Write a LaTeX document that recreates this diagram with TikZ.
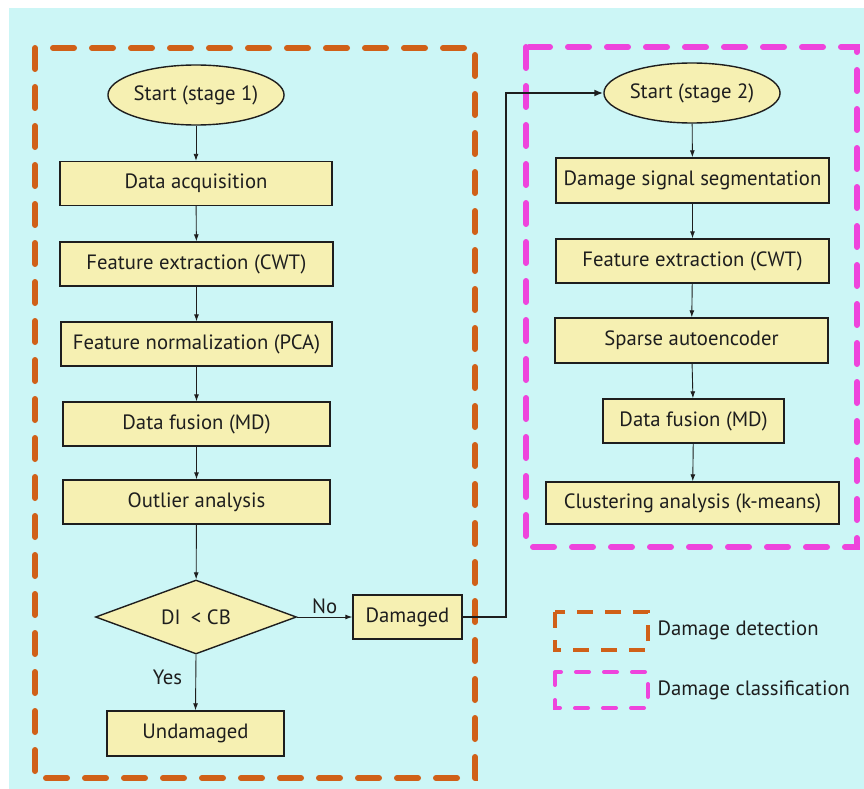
\documentclass[tikz,border=0pt]{standalone}
\usepackage{fontspec}
\setmainfont{PT Sans}
\usepackage{xcolor}
\usetikzlibrary{shapes.geometric,arrows.meta}
\definecolor{bgcyan}{RGB}{204,246,246}
\definecolor{boxyellow}{RGB}{246,240,178}
\definecolor{detorange}{RGB}{208,96,24}
\definecolor{clspink}{RGB}{238,68,220}
\definecolor{inkdark}{RGB}{30,30,30}

\begin{document}
\begin{tikzpicture}[x=1pt, y=-1pt,
    every node/.style={font=\fontsize{20.7}{24}\selectfont, text=inkdark},
    stepbox/.style={draw=inkdark, line width=1.4pt, fill=boxyellow,
      inner sep=0pt, minimum height=44pt},
    startoval/.style={ellipse, draw=inkdark, line width=1.4pt, fill=boxyellow,
      inner sep=0pt, minimum width=162pt, minimum height=60pt},
    flow/.style={-{Latex[length=7pt, width=5pt]}, draw=inkdark, line width=0.9pt},
    stagebox/.style={line width=6pt, line cap=round, dash pattern=on 21pt off 18pt}]
    \useasboundingbox (0, 0) rectangle (864, 789);
    \fill[bgcyan] (9, 8) rectangle (864, 789);

    % stage 1
    \draw[stagebox, detorange] (35, 48) rectangle (475, 778);
    \node[startoval] (start1) at (196, 95) {Start (stage 1)};
    \node[stepbox, minimum width=272pt] (acq) at (196, 183.5) {Data acquisition};
    \node[stepbox, minimum width=273pt] (fext1) at (196.5, 264)
      {Feature extraction (CWT)};
    \node[stepbox, minimum width=271pt] (fnorm) at (196.5, 344)
      {Feature normalization (PCA)};
    \node[stepbox, minimum width=267pt] (fus1) at (196.5, 424) {Data fusion (MD)};
    \node[stepbox, minimum width=267pt] (outl) at (196.5, 502) {Outlier analysis};
    \node[diamond, draw=inkdark, line width=1.4pt, fill=boxyellow, inner sep=0pt,
      aspect=2.7, minimum width=201pt, minimum height=74pt] (di) at (196, 617)
      {DI\enspace< CB};
    \node[stepbox, minimum width=109pt] (dmg) at (407.5, 617) {Damaged};
    \node[stepbox, minimum width=177pt, minimum height=45pt] (undmg) at (195.5, 733.5)
      {Undamaged};

    \draw[flow] (start1) -- (acq);
    \draw[flow] (acq) -- (fext1);
    \draw[flow] (fext1) -- (fnorm);
    \draw[flow] (fnorm) -- (fus1);
    \draw[flow] (fus1) -- (outl);
    \draw[flow] (outl) -- (di);
    \draw[flow] (di.east) -- node[above, yshift=-1pt] {No} (dmg.west);
    \draw[flow] (di.south) -- node[pos=0.4, left=10pt] {Yes} (undmg.north);

    % stage 2
    \draw[stagebox, clspink] (526, 47) rectangle (857, 547);
    \node[startoval] (start2) at (692, 93) {Start (stage 2)};
    \node[stepbox, minimum width=273pt, minimum height=45pt] (seg) at (692.5, 180.5)
      {Damage signal segmentation};
    \node[stepbox, minimum width=273pt] (fext2) at (692.5, 261)
      {Feature extraction (CWT)};
    \node[stepbox, minimum width=273pt, minimum height=45pt] (sae) at (691.5, 340.5)
      {Sparse autoencoder};
    \node[stepbox, minimum width=181pt] (fus2) at (693.5, 421) {Data fusion (MD)};
    \node[stepbox, minimum width=293pt, minimum height=42pt] (clus) at (692.5, 503)
      {Clustering analysis (k-means)};

    \coordinate (turn) at (506, 93);
    \draw[-{Latex[length=9pt, width=7pt]}, draw=inkdark, line width=1.8pt]
      (dmg.east) -| (turn) -- (start2.west);
    \draw[flow] (start2) -- (seg);
    \draw[flow] (seg) -- (fext2);
    \draw[flow] (fext2) -- (sae);
    \draw[flow] (sae) -- (fus2);
    \draw[flow] (fus2) -- (clus);

    % legend
    \draw[detorange, line width=4pt, dash pattern=on 16pt off 12pt] (555, 612)
      rectangle (648, 650);
    \node[anchor=west] (legdet) at (654, 630) {Damage detection};
    \draw[clspink, line width=4pt, line cap=round, dash pattern=on 13pt off 15pt]
      (555, 672) rectangle (648, 708);
    \node[anchor=west] (legcls) at (654, 690) {Damage classification};
  \end{tikzpicture}
\end{document}
